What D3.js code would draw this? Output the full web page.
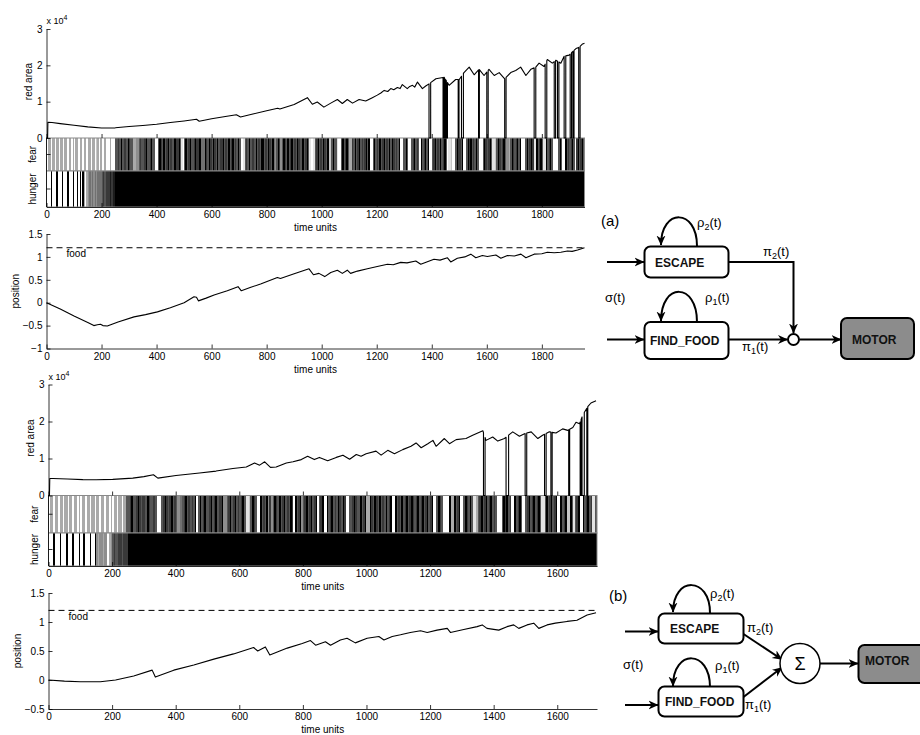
<!DOCTYPE html>
<html><head><meta charset="utf-8">
<script src="https://cdn.jsdelivr.net/npm/d3@7"></script>
<style>
body{margin:0;background:#fff}
svg{display:block}
text{font-family:"Liberation Sans",Arial,sans-serif}
</style></head><body>
<script>
// ---------------- DATA ----------------
const timeTicks1 = [0,200,400,600,800,1000,1200,1400,1600,1800];
const timeTicks2 = [0,200,400,600,800,1000,1200,1400,1600];
const redTicks = [0,10000,20000,30000];
const posTicks1 = [-1,-0.5,0,0.5,1,1.5];
const posTicks2 = [-0.5,0,0.5,1,1.5];
const foodLevel = 1.2;
const tEnd1 = 1955, tEnd2 = 1725;

// red area, run (a) : [time, area]
const redArea1 = [[0,0],[4,0],[5,4300],[20,4250],[50,3950],[100,3500],[150,3050],[200,2750],[250,2800],[300,3150],[350,3450],[400,3800],[450,4250],[500,4700],[545,5150],[555,4600],[600,5300],[650,5900],[690,6400],[705,5800],[750,6600],[800,7500],[840,8200],[848,8000],[900,9200],[948,11100],[966,9300],[984,9900],[1008,8500],[1033,9600],[1057,10600],[1075,9500],[1093,10600],[1112,9600],[1136,10600],[1160,10200],[1184,11100],[1202,11800],[1215,12400],[1227,13100],[1240,12800],[1251,13600],[1262,13300],[1275,13900],[1285,13600],[1293,14700],[1311,13600],[1320,14200],[1330,14500],[1338,14000],[1348,15400],[1357,14500],[1366,13600],[1378,14300],[1390,14900],[1415,16300],[1445,16700],[1463,14500],[1487,16100],[1500,16100],[1517,18000],[1536,19500],[1554,17400],[1572,18900],[1590,17200],[1608,18900],[1627,17200],[1645,18000],[1665,16300],[1687,18000],[1705,18600],[1723,19500],[1742,17200],[1760,18900],[1778,19500],[1790,20600],[1808,19700],[1820,21600],[1838,20600],[1851,21400],[1869,20600],[1881,22500],[1899,22800],[1911,23700],[1924,24600],[1936,25000],[1948,25900],[1955,26100]];
const drops1 = [[1390,1396],[1441,1444],[1447,1450],[1453,1457],[1496,1499],[1508,1515],[1570,1573],[1600,1605],[1665,1670],[1772,1778],[1812,1818],[1845,1850],[1857,1862],[1881,1887],[1903,1908],[1913,1917],[1934,1939]];

// red area, run (b)
const redArea2 = [[0,0],[3,0],[4,4600],[14,4600],[60,4450],[108,4300],[150,4250],[202,4350],[265,4700],[300,5100],[330,5600],[344,4700],[401,5400],[475,6100],[527,6600],[580,7300],[622,7700],[648,8800],[664,8200],[680,9100],[698,7600],[716,7700],[748,8800],[769,9100],[795,9700],[815,10600],[836,9700],[852,10300],[878,9400],[905,10300],[926,10900],[947,9800],[968,11100],[983,10600],[999,11300],[1030,12000],[1046,10900],[1067,12200],[1088,11300],[1114,12400],[1140,13300],[1156,14200],[1172,12900],[1193,14000],[1209,14900],[1219,13300],[1245,15400],[1261,14000],[1282,15100],[1313,15400],[1334,16300],[1350,16900],[1366,17500],[1376,14900],[1397,15800],[1413,14700],[1434,15400],[1460,17200],[1481,16000],[1497,16700],[1518,17200],[1539,15400],[1554,16300],[1575,17200],[1596,16900],[1617,18000],[1633,17600],[1649,18400],[1659,19800],[1670,19400],[1680,21700],[1696,24000],[1706,25000],[1722,25600]];
const drops2 = [[1368,1373],[1439,1447],[1499,1504],[1560,1565],[1580,1584],[1636,1639],[1672,1675],[1678,1685],[1693,1696]];

// position, run (a) and (b)
const position1 = [[0,0],[50,-0.14],[100,-0.29],[150,-0.43],[172,-0.50],[185,-0.48],[196,-0.47],[205,-0.50],[221,-0.51],[260,-0.42],[318,-0.31],[360,-0.26],[403,-0.20],[450,-0.11],[500,0.00],[536,0.13],[545,0.12],[552,0.04],[580,0.10],[609,0.17],[657,0.26],[696,0.35],[708,0.26],[740,0.33],[778,0.41],[839,0.55],[850,0.53],[900,0.63],[954,0.74],[970,0.61],[990,0.64],[1011,0.57],[1033,0.66],[1057,0.71],[1075,0.64],[1093,0.71],[1105,0.64],[1130,0.69],[1166,0.74],[1202,0.79],[1239,0.84],[1260,0.83],[1287,0.88],[1310,0.87],[1342,0.91],[1360,0.84],[1408,0.95],[1430,0.93],[1457,0.98],[1469,0.89],[1493,0.97],[1520,1.00],[1542,1.06],[1560,0.98],[1584,1.03],[1602,1.01],[1633,1.04],[1651,0.97],[1675,1.03],[1700,1.02],[1724,1.06],[1742,0.98],[1772,1.06],[1800,1.07],[1820,1.10],[1845,1.09],[1869,1.10],[1893,1.13],[1910,1.12],[1930,1.15],[1955,1.20]];
const position2 = [[0,0],[50,-0.02],[100,-0.03],[163,-0.03],[211,0.00],[268,0.07],[326,0.17],[336,0.05],[394,0.17],[457,0.26],[520,0.36],[582,0.45],[645,0.56],[658,0.50],[682,0.57],[696,0.43],[751,0.55],[798,0.63],[824,0.68],[840,0.60],[871,0.66],[887,0.60],[918,0.69],[939,0.72],[965,0.64],[1002,0.72],[1039,0.75],[1055,0.69],[1081,0.75],[1107,0.78],[1138,0.82],[1170,0.85],[1191,0.82],[1222,0.86],[1254,0.89],[1264,0.82],[1306,0.87],[1348,0.92],[1364,0.95],[1379,0.89],[1416,0.86],[1442,0.92],[1463,0.95],[1479,0.89],[1505,0.95],[1526,0.98],[1542,0.89],[1568,0.95],[1594,0.98],[1631,1.01],[1662,1.03],[1694,1.12],[1722,1.16]];

// activation bands: one string per 50 time units, each digit = grey level (0 black .. 9 white)
const fear1 = ["9669669669","6696696696","9669669669","6696697696","9969996999","3323032230","2336655323","3203320339","9302303203","2330220389","3032033202","2044402302","3023032203","2303203230","3998323032","2303230032","3023045302","5302303203","2302330320","3899832032","3023077303","3899303203","6623032032","3203099303","2303203230","3023230993","3039932032","3903203099","3203230320","3988799302","2309930203","2303999302","3203887302","3203556302","3203099930","3202880320","3880320399","9930399032","3203920320","3200000000"];
const hunger1 = ["9990999099","9099909990","9909090696","5454545444","3232221211"];
const hungerRest1 = 0;
const fear2 = ["9669669669","6696696696","9669669669","6696696696","9669669663","3203320232","2302332399","9320232032","3554320323","2309303203","3203203220","5532032032","3203887302","3990323052","5302303203","2302903205","3203203209","3209903203","2302302993","3202330320","6602302303","2303209903","2303203202","3203203203","2099302399","9906603209","9302303886","3203203203","2399930203","2990320399","3203203203","8830320320","9903207703","8320990320","3288320320"];
const hunger2 = ["9990999099","9099909990","9909990990","5655655965","3233223222"];
const hungerRest2 = 0;

// ---------------- DRAWING ----------------
const W = 920, H = 735;
const svg = d3.select("body").append("svg").attr("width", W).attr("height", H);
const FONT = '"Liberation Sans",Arial,sans-serif';
const SERIF = '"Liberation Serif","Times New Roman",serif';
const intFmt = d3.format("d");

function grey(d){ const v = Math.round(d/9*255); return `rgb(${v},${v},${v})`; }

function withDrops(series, drops){
  const interp = t => {
    for (let i=0;i<series.length-1;i++){
      const a=series[i], b=series[i+1];
      if (t>=a[0] && t<=b[0]) return a[1] + (b[1]-a[1])*(t-a[0])/(b[0]-a[0]);
    }
    return series[series.length-1][1];
  };
  let pts = series.filter(p => !drops.some(([a,b]) => p[0]>=a && p[0]<=b)).map(p=>({t:p[0],v:p[1],o:0}));
  drops.forEach(([a,b])=>{
    pts.push({t:a,v:interp(a),o:1},{t:a,v:0,o:2},{t:b,v:0,o:3},{t:b,v:interp(b),o:4});
  });
  pts.sort((p,q)=> p.t-q.t || p.o-q.o);
  return pts.map(p=>[p.t,p.v]);
}

function drawBand(x, blocks, rest, yTop, yBot, tMax){
  const cells = [];
  blocks.forEach((s,i)=>{
    const w = 50/s.length;
    for (let j=0;j<s.length;j++){
      const ta = i*50 + j*w;
      if (ta >= tMax) break;
      cells.push({a:ta, b:Math.min(ta+w, tMax), d:+s[j]});
    }
  });
  if (rest !== null){
    const start = blocks.length*50;
    if (start < tMax) cells.push({a:start, b:tMax, d:rest});
  }
  svg.append("g").selectAll("rect").data(cells).join("rect")
    .attr("x", c=>x(c.a)).attr("width", c=>Math.max(0.5, x(c.b)-x(c.a)+0.3))
    .attr("y", yTop).attr("height", yBot-yTop)
    .attr("fill", c=>grey(c.d)).attr("shape-rendering","crispEdges");
  svg.append("rect").attr("x", x(0)).attr("y", yTop).attr("width", x(tMax)-x(0)).attr("height", yBot-yTop)
    .attr("fill","none").attr("stroke","#8a8a8a").attr("stroke-width",1);
}

function styleAxis(g){
  g.attr("font-family", FONT).attr("font-size", 10);
  g.selectAll("text").attr("fill","#000");
  g.selectAll("line,path").attr("stroke","#000").attr("stroke-width",0.8);
}

function vlabel(x, y, txt){
  svg.append("text").attr("transform",`translate(${x},${y}) rotate(-90)`)
    .attr("text-anchor","middle").attr("dy","0.35em").attr("font-size",10).attr("font-family",FONT).text(txt);
}

function drawPanel(L, D){
  const x = d3.scaleLinear().domain([0, L.tMax]).range([L.x0, L.x1]);
  const yR = d3.scaleLinear().domain([0, 30000]).range([L.redBot, L.redTop]);

  drawBand(x, D.fear, null, L.redBot, L.fearBot, L.tMax);
  drawBand(x, D.hunger, D.hungerRest, L.fearBot, L.hungerBot, L.tMax);

  // red area line
  svg.append("path").datum(withDrops(D.red, D.drops))
    .attr("d", d3.line().x(d=>x(d[0])).y(d=>yR(d[1])))
    .attr("fill","none").attr("stroke","#000").attr("stroke-width",1.1).attr("stroke-linejoin","round");

  // red area y axis
  const gy = svg.append("g").attr("transform",`translate(${L.x0},0)`)
    .call(d3.axisLeft(yR).tickValues(redTicks).tickFormat(d=>d/1e4).tickSizeInner(-4).tickSizeOuter(0).tickPadding(4));
  styleAxis(gy);
  // ticks along red area bottom
  const gb = svg.append("g").attr("transform",`translate(0,${L.redBot})`)
    .call(d3.axisBottom(x).tickValues(D.ticks).tickSize(-4).tickFormat(""));
  gb.select(".domain").remove();
  styleAxis(gb);
  // left axis line along bands + mid ticks
  svg.append("line").attr("x1",L.x0).attr("x2",L.x0).attr("y1",L.redBot).attr("y2",L.hungerBot).attr("stroke","#000").attr("stroke-width",0.8);
  [[L.redBot,L.fearBot],[L.fearBot,L.hungerBot]].forEach(([a,b])=>{
    svg.append("line").attr("x1",L.x0).attr("x2",L.x0+4).attr("y1",(a+b)/2).attr("y2",(a+b)/2).attr("stroke","#000").attr("stroke-width",0.8);
  });
  // band bottom axis
  const gx = svg.append("g").attr("transform",`translate(0,${L.hungerBot})`)
    .call(d3.axisBottom(x).tickValues(D.ticks).tickFormat(intFmt).tickSize(-4).tickSizeOuter(0).tickPadding(4));
  styleAxis(gx);

  // x 10^4
  const t = svg.append("text").attr("x", L.x0).attr("y", L.redTop-5).attr("font-size",9).attr("font-family",FONT);
  t.append("tspan").text("x 10");
  t.append("tspan").attr("dy",-4).attr("font-size",7).text("4");

  vlabel(L.x0-18, (L.redTop+L.redBot)/2 - 2, "red area");
  vlabel(L.x0-14, (L.redBot+L.fearBot)/2, "fear");
  vlabel(L.x0-14, (L.fearBot+L.hungerBot)/2, "hunger");
  svg.append("text").attr("x",(L.x0+L.x1)/2).attr("y",L.hungerBot+24).attr("text-anchor","middle")
    .attr("font-size",10).attr("font-family",FONT).text("time units");

  // position
  const yP = d3.scaleLinear().domain(D.posDomain).range([L.posBot, L.posTop]);
  svg.append("line").attr("x1",x(0)).attr("x2",x(L.tMax)).attr("y1",yP(foodLevel)).attr("y2",yP(foodLevel))
    .attr("stroke","#000").attr("stroke-width",1).attr("stroke-dasharray","6,4");
  svg.append("text").attr("x", x(0)+20).attr("y", yP(foodLevel)+9.5).attr("font-size",10).attr("font-family",FONT).text("food");
  svg.append("path").datum(D.pos)
    .attr("d", d3.line().x(d=>x(d[0])).y(d=>yP(d[1])))
    .attr("fill","none").attr("stroke","#000").attr("stroke-width",1.1).attr("stroke-linejoin","round");
  const fmt = d => (d<0 ? "\u2212" : "") + Math.abs(d);
  const gpy = svg.append("g").attr("transform",`translate(${L.x0},0)`)
    .call(d3.axisLeft(yP).tickValues(D.posTicks).tickFormat(fmt).tickSizeInner(-4).tickSizeOuter(0).tickPadding(4));
  styleAxis(gpy);
  const gpx = svg.append("g").attr("transform",`translate(0,${L.posBot})`)
    .call(d3.axisBottom(x).tickValues(D.ticks).tickFormat(intFmt).tickSize(-4).tickSizeOuter(0).tickPadding(4));
  styleAxis(gpx);
  vlabel(L.x0-31, (L.posTop+L.posBot)/2, "position");
  svg.append("text").attr("x",(L.x0+L.x1)/2).attr("y",L.posBot+24).attr("text-anchor","middle")
    .attr("font-size",10).attr("font-family",FONT).text("time units");
}

drawPanel({x0:46.5, x1:584.5, tMax:tEnd1, redTop:29, redBot:138, fearBot:171, hungerBot:207, posTop:234, posBot:348.5},
  {red:redArea1, drops:drops1, fear:fear1, hunger:hunger1, hungerRest:hungerRest1, ticks:timeTicks1, pos:position1, posDomain:[-1,1.5], posTicks:posTicks1});
drawPanel({x0:48.5, x1:597, tMax:tEnd2, redTop:384.5, redBot:495.5, fearBot:533, hungerBot:566, posTop:593, posBot:709},
  {red:redArea2, drops:drops2, fear:fear2, hunger:hunger2, hungerRest:hungerRest2, ticks:timeTicks2, pos:position2, posDomain:[-0.5,1.5], posTicks:posTicks2});

// ---------------- DIAGRAMS ----------------
const defs = svg.append("defs");
defs.append("marker").attr("id","ah").attr("viewBox","0 0 10 10").attr("refX",9.5).attr("refY",5)
  .attr("markerWidth",10).attr("markerHeight",10).attr("markerUnits","userSpaceOnUse").attr("orient","auto")
  .append("path").attr("d","M0,0.5 L10,5 L0,9.5 L3,5 Z").attr("fill","#000");

function arrow(d){ svg.append("path").attr("d",d).attr("fill","none").attr("stroke","#000").attr("stroke-width",2).attr("marker-end","url(#ah)"); }
function box(x,y,w,h,fill){ svg.append("rect").attr("x",x).attr("y",y).attr("width",w).attr("height",h).attr("rx",6).attr("fill",fill).attr("stroke","#000").attr("stroke-width",2); }
function btext(x,y,s){ svg.append("text").attr("x",x).attr("y",y).attr("font-size",12).attr("font-weight","bold").attr("font-family",FONT).attr("fill","#111").text(s); }
function glabel(x,y,base,sub){
  const t = svg.append("text").attr("x",x).attr("y",y).attr("font-size",13).attr("font-family",SERIF);
  t.append("tspan").text(base);
  if (sub){ t.append("tspan").attr("dy",3).attr("font-size",9).text(sub); t.append("tspan").attr("dy",-3).text("(t)"); }
  else t.append("tspan").text("(t)");
}

// (a)
svg.append("text").attr("x",601).attr("y",226).attr("font-size",15).attr("font-family",FONT).text("(a)");
arrow("M607,262 H644");
arrow("M607,339.5 H644");
arrow("M728.5,262 H793.5 V333");
arrow("M728.5,339.5 H787.5");
arrow("M799.5,339.5 H841");
arrow("M697,246 C697,208 661,208 661,245");
arrow("M697,322 C697,282 661,282 661,321");
box(644.5,246.5,84,31,"#fff");
box(644.5,322,84,37,"#fff");
box(841,318,73,41,"#8c8c8c");
svg.append("circle").attr("cx",793.5).attr("cy",339.5).attr("r",5.5).attr("fill","#fff").attr("stroke","#000").attr("stroke-width",2);
btext(655,266.5,"ESCAPE");
btext(650,344.5,"FIND_FOOD");
btext(852,343.5,"MOTOR");
glabel(697,227,"ρ","2");
glabel(763,256,"π","2");
glabel(605,302,"σ",null);
glabel(705,302,"ρ","1");
glabel(742,351,"π","1");

// (b)
svg.append("text").attr("x",609).attr("y",601).attr("font-size",15).attr("font-family",FONT).text("(b)");
arrow("M625,631.5 H658");
arrow("M625,705 H658");
arrow("M743.5,634 L782,659.5");
arrow("M743.5,697 L782,667.5");
arrow("M820,663.5 H858");
arrow("M710,613 C710,576 673,576 673,612");
arrow("M710,687 C710,649 673,649 673,686");
box(658.5,613.5,85,30,"#fff");
box(658.5,686.5,85,30,"#fff");
box(858.5,645,70,38,"#8c8c8c");
svg.append("circle").attr("cx",800).attr("cy",663.5).attr("r",20).attr("fill","#fff").attr("stroke","#000").attr("stroke-width",1.5);
svg.append("text").attr("x",800).attr("y",669.5).attr("text-anchor","middle").attr("font-size",18).attr("font-family",SERIF).text("Σ");
btext(670,632.5,"ESCAPE");
btext(665,706,"FIND_FOOD");
btext(865,664.5,"MOTOR");
glabel(710,598,"ρ","2");
glabel(747,632,"π","2");
glabel(623,669,"σ",null);
glabel(715,670,"ρ","1");
glabel(745,709,"π","1");
</script>
</body></html>
